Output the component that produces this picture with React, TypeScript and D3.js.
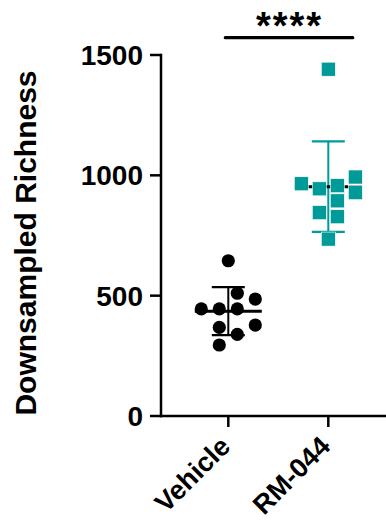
import React from "react";
import * as d3 from "d3";

// Downsampled richness per animal, by treatment group
const groups = ["Vehicle", "RM-044"];
const vehicleRichness = [645, 445, 445, 486, 445, 510, 339, 295, 368, 378];
const rm044Richness = [1441, 957, 944, 993, 965, 928, 894, 845, 828, 735];
const yTicks = [0, 500, 1000, 1500];
const yTitle = "Downsampled Richness";
const significance = "****";

const W = 386;
const H = 522;
const FONT = "'Liberation Sans', Arial, Helvetica, sans-serif";
const TEAL = "#009a98";

const y = d3.scaleLinear().domain([0, 1500]).range([416, 55]);
const x = d3.scalePoint<string>().domain(groups).range([228.3, 328.3]);

// Column-scatter layout: points that overlap vertically are spread into
// half-step columns around the group centre; lone points stay centred.
function spread(values: number[], step: number, gap: number) {
  const cols = [0.5, -0.5, 1.5, -1.5, 2.5, -2.5, 3.5, -3.5];
  const placed: { py: number; col: number }[] = [];
  return values.map((v, i) => {
    const py = y(v);
    const alone = values.every((u, j) => j === i || Math.abs(y(u) - py) >= gap);
    let col = 0;
    if (!alone) {
      col =
        cols.find(
          (c) => !placed.some((p) => p.col === c && Math.abs(p.py - py) < gap)
        ) ?? 0;
    }
    placed.push({ py, col });
    return { value: v, dx: col * step, py };
  });
}

function Group({
  name,
  values,
  color,
  shape,
}: {
  name: string;
  values: number[];
  color: string;
  shape: "circle" | "square";
}) {
  const cx = x(name) as number;
  const mean = d3.mean(values) as number;
  const sd = d3.deviation(values) as number;
  const pts = spread(values, 18, 14);
  return (
    <g>
      <line x1={cx} x2={cx} y1={y(mean + sd)} y2={y(mean - sd)} stroke={color} strokeWidth={2} />
      <line x1={cx - 16.5} x2={cx + 16.5} y1={y(mean + sd)} y2={y(mean + sd)} stroke={color} strokeWidth={2.2} />
      <line x1={cx - 16.5} x2={cx + 16.5} y1={y(mean - sd)} y2={y(mean - sd)} stroke={color} strokeWidth={2.2} />
      <line x1={cx - 33.5} x2={cx + 33.5} y1={y(mean)} y2={y(mean)} stroke="#000" strokeWidth={3} />
      {pts.map((p, i) =>
        shape === "circle" ? (
          <circle key={i} cx={cx + p.dx} cy={p.py} r={6.6} fill={color} />
        ) : (
          <rect
            key={i}
            x={cx + p.dx - 7}
            y={p.py - 7}
            width={14}
            height={14}
            fill={color}
            stroke="#fff"
            strokeWidth={0.6}
          />
        )
      )}
    </g>
  );
}

export default function App() {
  const axisX = 161;
  const baseY = y(0);
  return (
    <svg
      width={W}
      height={H}
      viewBox={`0 0 ${W} ${H}`}
      style={{ position: "absolute", left: 0, top: 0, background: "#fff" }}
      fontFamily={FONT}
      fontWeight="bold"
    >
      <rect width={W} height={H} fill="#fff" />

      {/* y axis */}
      <line x1={axisX} x2={axisX} y1={y(1500) - 1.25} y2={baseY + 1.25} stroke="#000" strokeWidth={2.5} />
      {yTicks.map((t) => (
        <g key={t}>
          <line x1={axisX - 11} x2={axisX} y1={y(t)} y2={y(t)} stroke="#000" strokeWidth={2.5} />
          <text x={143} y={y(t) + 10} textAnchor="end" fontSize={28} fill="#000">
            {t}
          </text>
        </g>
      ))}
      <text
        transform={`translate(35.5, 243) rotate(-90)`}
        textAnchor="middle"
        fontSize={30}
        fill="#000"
      >
        {yTitle}
      </text>

      {/* x axis */}
      <line x1={axisX - 1.25} x2={W} y1={baseY} y2={baseY} stroke="#000" strokeWidth={2.5} />
      {groups.map((g) => (
        <g key={g}>
          <line x1={x(g)} x2={x(g)} y1={baseY} y2={baseY + 11} stroke="#000" strokeWidth={2.5} />
          <text
            transform={`translate(${(x(g) as number) + 3.5}, 448) rotate(-45)`}
            textAnchor="end"
            fontSize={27}
            fill="#000"
          >
            {g}
          </text>
        </g>
      ))}

      <Group name="Vehicle" values={vehicleRichness} color="#000" shape="circle" />
      <Group name="RM-044" values={rm044Richness} color={TEAL} shape="square" />

      {/* significance bracket */}
      <line
        x1={(x("Vehicle") as number) - 3}
        x2={(x("RM-044") as number) + 24.5}
        y1={37.7}
        y2={37.7}
        stroke="#000"
        strokeWidth={3.2}
        strokeLinecap="round"
      />
      <text x={289.5} y={39} textAnchor="middle" fontSize={38} letterSpacing={2} fill="#000">
        {significance}
      </text>
    </svg>
  );
}
